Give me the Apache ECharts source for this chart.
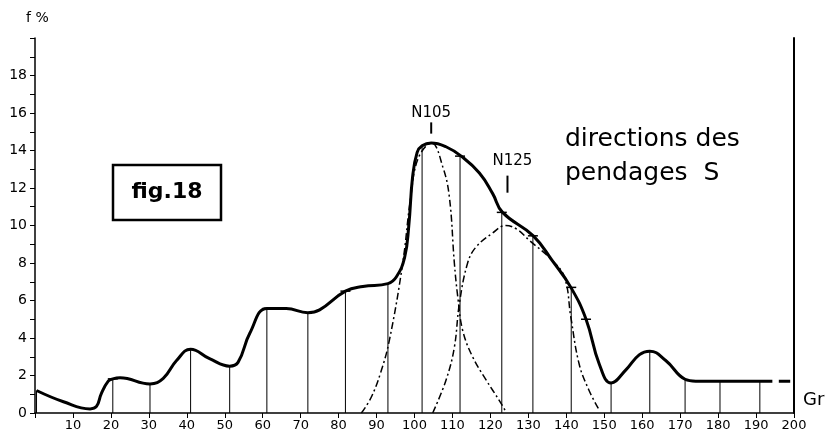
<!DOCTYPE html>
<html><head><meta charset="utf-8">
<script src="https://cdn.jsdelivr.net/npm/echarts@6/dist/echarts.min.js"></script>
<style>html,body{margin:0;padding:0;background:#fff}#c{width:839px;height:437px}</style>
</head><body><div id="c"></div>
<script>
// main frequency curve (x in Gr, y in f%)
const mainCurve = [[0.4,1.2],[7.5,0.6],[14.5,0.22],[16.2,0.35],[17.5,1.05],[19.3,1.7],[20.5,1.82],[22.4,1.88],[30.3,1.55],[33.8,1.85],[37.3,2.8],[41,3.4],[46,2.9],[51.3,2.5],[53.5,2.7],[56.6,4.25],[61.1,5.57],[66.2,5.57],[71.9,5.35],[75,5.5],[81.8,6.5],[86.4,6.75],[93,6.9],[95.2,7.25],[97.4,8.3],[98.5,10.0],[99.5,12.6],[100.7,13.9],[102,14.25],[104.4,14.4],[108.3,14.2],[112.3,13.7],[117.1,12.8],[120.6,11.7],[123.2,10.7],[131.3,9.45],[136.4,8.1],[141.2,6.7],[145.2,5.0],[148.7,2.6],[151.8,1.6],[155.7,2.3],[159.2,3.1],[162,3.3],[166.2,2.8],[171.3,1.8],[174.1,1.7],[194.3,1.7]];
const mainTail = [[196,1.7],[199,1.7]];
// vertical drop lines at sampled points
const dropX = [0.4,20.5,30.3,41,51.3,61.1,71.9,81.8,93,102,112,123,131.2,141.3,151.8,162,171.3,180.5,191];
const dropY = [1.2,1.82,1.55,3.4,2.5,5.57,5.35,6.5,6.9,14.25,13.7,10.7,9.45,6.7,1.6,3.3,1.8,1.7,1.7];
// small horizontal marks on the curve
const markX = [20.5,61.1,81.8,112,123,131.2,141.3,145.2];
const markY = [1.82,5.57,6.5,13.7,10.7,9.45,6.7,5.0];
// component curves (dash-dot)
const compN105 = [[86,0],[88.5,0.8],[91,2.1],[93.4,3.9],[96.9,8.0],[99,11.5],[101,13.6],[104.5,14.4],[107.5,13.1],[109.2,11.5],[110.5,8.0],[111.4,6.2],[112.7,4.4],[115.3,3.0],[118.9,1.75],[122.4,0.65],[124,0.1]];
const compN125 = [[104.8,0],[108.3,1.75],[110.5,3.5],[111.8,5.8],[114,8.0],[116.2,8.85],[120.6,9.6],[124,10.0],[127,9.8],[130.3,9.2],[136,8.2],[139.5,7.25],[141.2,5.1],[143.4,2.6],[146,1.2],[148.7,0.15]];
// peak annotations
const annNames = ['N105','N125'];
const annTickX = [104.4,124.5];
const annTickLo = [14.9,11.75];
const annTickHi = [15.5,12.66];
const annTextX = [104.4,125.8];
const annTextY = [16.0,13.45];

const chart = echarts.init(document.getElementById('c'));
const F = 'DejaVu Sans';
const dropData = dropX.map((x,i)=>[x,dropY[i]]);
const markData = markX.map((x,i)=>[x,markY[i]]);
const annData = annNames.map((n,i)=>[annTickX[i],annTickLo[i],annTickHi[i],annTextX[i],annTextY[i],n]);
const dashDot = {color:'#000', width:1.5, type:[7,3,2,3]};

chart.setOption({
  animation:false,
  backgroundColor:'#fff',
  grid:{left:35,right:45,top:38,bottom:24},
  xAxis:{type:'value',min:0,max:200,interval:10,
    axisLine:{lineStyle:{color:'#000',width:1.5}},
    axisTick:{length:5,lineStyle:{color:'#000'}},
    axisLabel:{color:'#000',fontFamily:F,fontSize:13,margin:6,formatter:v=>v===0?'':String(v)},
    splitLine:{show:false}},
  yAxis:[{type:'value',min:0,max:20,interval:1,
    axisLine:{show:true,lineStyle:{color:'#000',width:1.5}},
    axisTick:{show:true,length:5,lineStyle:{color:'#000'}},
    axisLabel:{color:'#000',fontFamily:F,fontSize:14,margin:8,formatter:v=>(v%2===0&&v<20)?String(v):''},
    splitLine:{show:false}},
   {type:'value',min:0,max:20,position:'right',
    axisLine:{show:true,lineStyle:{color:'#000',width:2}},
    axisTick:{show:false},axisLabel:{show:false},splitLine:{show:false}}],
  series:[
    {type:'custom',data:dropData,encode:{x:0,y:1},z:1,
      renderItem:(p,api)=>{const x=api.value(0),y=api.value(1);const a=api.coord([x,0]),b=api.coord([x,y]);
        return {type:'line',shape:{x1:a[0],y1:a[1],x2:b[0],y2:b[1]},style:{stroke:'#000',lineWidth:1}};}},
    {type:'custom',data:markData,encode:{x:0,y:1},z:3,
      renderItem:(p,api)=>{const c=api.coord([api.value(0),api.value(1)]);
        return {type:'line',shape:{x1:c[0]-5,y1:c[1],x2:c[0]+5,y2:c[1]},style:{stroke:'#000',lineWidth:1.5}};}},
    {type:'line',data:compN105,smooth:0.4,symbol:'none',lineStyle:dashDot,z:2},
    {type:'line',data:compN125,smooth:0.4,symbol:'none',lineStyle:dashDot,z:2},
    {type:'line',data:mainCurve,smooth:0.45,symbol:'none',lineStyle:{color:'#000',width:3},z:4},
    {type:'line',data:mainTail,symbol:'none',lineStyle:{color:'#000',width:3},z:4},
    {type:'custom',data:annData,encode:{x:0,y:1},z:5,
      renderItem:(p,api)=>{const a=api.coord([api.value(0),api.value(1)]);const b=api.coord([api.value(0),api.value(2)]);
        const t=api.coord([api.value(3),api.value(4)]);
        return {type:'group',children:[
          {type:'line',shape:{x1:a[0],y1:a[1],x2:b[0],y2:b[1]},style:{stroke:'#000',lineWidth:2}},
          {type:'text',style:{x:t[0],y:t[1],text:annNames[p.dataIndex],fill:'#000',font:'15px '+F,textAlign:'center',textVerticalAlign:'middle'}}]};}}
  ],
  graphic:[
    {type:'text',left:26,top:11,style:{text:'f %',fill:'#000',font:'14px '+F}},
    {type:'text',left:565,top:122,style:{text:'directions des\npendages  S',fill:'#000',font:'25px '+F,lineHeight:34}},
    {type:'rect',shape:{x:113,y:165,width:108,height:55},style:{fill:'#fff',stroke:'#000',lineWidth:2.5}},
    {type:'text',x:167,y:192,style:{text:'fig.18',fill:'#000',font:'bold 22px '+F,textAlign:'center',textVerticalAlign:'middle'}},
    {type:'text',left:803,top:391,style:{text:'Gr',fill:'#000',font:'18px '+F}}
  ]
});
</script></body></html>
